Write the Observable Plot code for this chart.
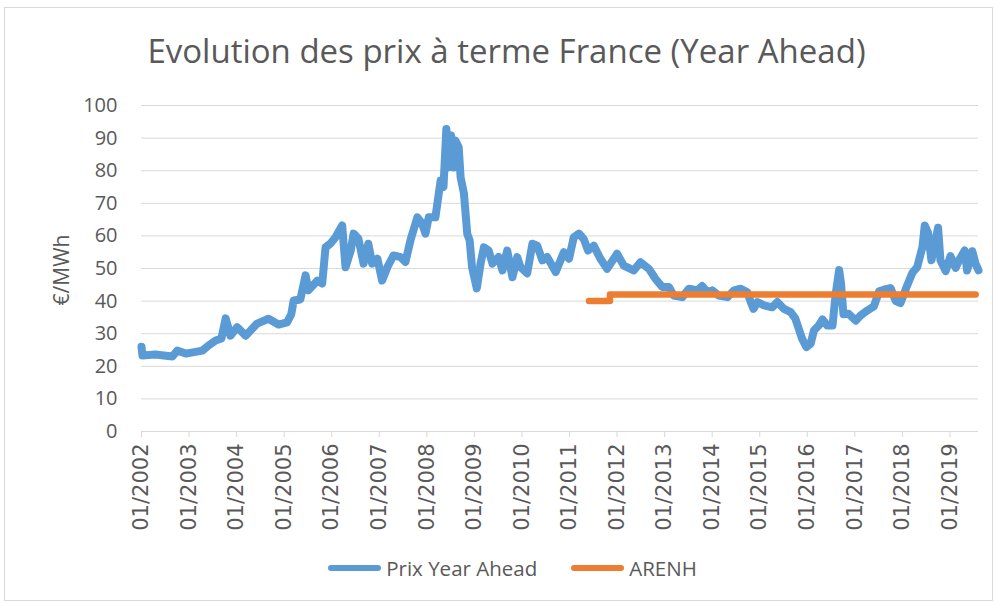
<!DOCTYPE html>
<html>
<head>
<meta charset="utf-8">
<script src="https://cdn.jsdelivr.net/npm/d3@7"></script>
<script src="https://cdn.jsdelivr.net/npm/@observablehq/plot@0.6"></script>
<style>
  html, body { margin: 0; padding: 0; background: #fff; }
  #wrap { position: relative; width: 995px; height: 603px; overflow: hidden; background: #fff; }
  #frame { position: absolute; left: 4px; top: 7px; width: 989px; height: 594px; border: 1px solid #D9D9D9; box-sizing: border-box; }
  #title { position: absolute; left: 0; width: 1013px; top: 28px; text-align: center; font-family: "Open Sans", sans-serif; font-size: 33px; color: #595959; white-space: nowrap; }
  #ylabel { position: absolute; left: 61px; top: 270px; transform: translate(-50%, -50%) rotate(-90deg); font-family: "Open Sans", sans-serif; font-size: 21px; color: #595959; white-space: nowrap; }
  #chart { position: absolute; left: 0; top: 0; }
  #legend { position: absolute; top: 554px; left: 0; width: 1025px; display: flex; justify-content: center; align-items: center; font-family: "Open Sans", sans-serif; font-size: 20.5px; color: #595959; }
  .item { display: flex; align-items: center; margin: 0 17px; }
  .sw { width: 53px; height: 6px; border-radius: 3px; margin-right: 5px; }
</style>
</head>
<body>
<div id="wrap">
  <div id="frame"></div>
  <div id="title">Evolution des prix à terme France (Year Ahead)</div>
  <div id="ylabel">€/MWh</div>
  <div id="chart"></div>
  <div id="legend"></div>
</div>
<script>
// Prix Year Ahead (€/MWh), time as decimal year
const priceYears = [2002.00, 2002.02, 2002.29, 2002.65, 2002.75, 2002.93, 2003.28, 2003.41, 2003.56, 2003.68,
  2003.77, 2003.87, 2004.01, 2004.19, 2004.43, 2004.67, 2004.88, 2005.06, 2005.15, 2005.20,
  2005.34, 2005.45, 2005.51, 2005.70, 2005.80, 2005.87, 2005.97, 2006.08, 2006.22, 2006.29,
  2006.40, 2006.46, 2006.56, 2006.67, 2006.77, 2006.85, 2006.96, 2007.06, 2007.17, 2007.30,
  2007.45, 2007.55, 2007.66, 2007.80, 2007.90, 2007.97, 2008.04, 2008.18, 2008.22, 2008.29,
  2008.35, 2008.41, 2008.45, 2008.51, 2008.56, 2008.60, 2008.67, 2008.71, 2008.78, 2008.85,
  2008.90, 2008.95, 2009.05, 2009.13, 2009.20, 2009.30, 2009.38, 2009.51, 2009.59, 2009.69,
  2009.80, 2009.90, 2009.97, 2010.11, 2010.22, 2010.32, 2010.43, 2010.53, 2010.71, 2010.88,
  2010.99, 2011.09, 2011.20, 2011.30, 2011.39, 2011.51, 2011.65, 2011.79, 2012.00, 2012.14,
  2012.35, 2012.49, 2012.67, 2012.81, 2012.95, 2013.09, 2013.19, 2013.37, 2013.51, 2013.69,
  2013.79, 2013.90, 2014.00, 2014.14, 2014.32, 2014.46, 2014.60, 2014.74, 2014.81, 2014.87,
  2014.95, 2015.09, 2015.26, 2015.37, 2015.51, 2015.65, 2015.75, 2015.82, 2015.89, 2015.98,
  2016.07, 2016.14, 2016.24, 2016.32, 2016.42, 2016.53, 2016.60, 2016.67, 2016.71, 2016.76,
  2016.87, 2017.02, 2017.12, 2017.26, 2017.40, 2017.51, 2017.61, 2017.75, 2017.86, 2017.96,
  2018.10, 2018.21, 2018.31, 2018.42, 2018.47, 2018.54, 2018.61, 2018.70, 2018.75, 2018.80,
  2018.91, 2019.01, 2019.12, 2019.19, 2019.31, 2019.36, 2019.47, 2019.54, 2019.60];
const priceValues = [26.0, 23.3, 23.6, 23.0, 24.8, 23.9, 24.8, 26.4, 27.9, 28.5,
  34.7, 29.4, 32.0, 29.4, 33.1, 34.6, 32.8, 33.5, 36.0, 40.2,
  40.5, 47.9, 43.3, 46.3, 45.4, 56.5, 57.6, 59.6, 63.2, 50.4,
  55.5, 60.7, 59.2, 51.5, 57.6, 51.5, 53.0, 46.3, 50.4, 54.0,
  53.5, 52.0, 58.9, 65.7, 63.8, 60.7, 65.7, 65.7, 69.8, 77.0,
  75.0, 92.8, 81.0, 90.8, 81.0, 89.3, 87.2, 78.0, 73.0, 60.6,
  58.6, 50.4, 43.9, 51.5, 56.5, 55.5, 51.5, 53.5, 49.4, 55.5,
  47.3, 53.5, 50.4, 48.5, 57.6, 57.0, 52.5, 53.5, 48.9, 55.0,
  53.0, 59.6, 60.7, 59.0, 55.5, 57.0, 53.0, 49.9, 54.5, 50.9,
  49.4, 51.9, 49.9, 46.8, 44.3, 44.3, 41.7, 41.2, 43.8, 43.3,
  44.6, 42.7, 43.3, 41.7, 41.2, 43.3, 43.8, 42.7, 39.7, 37.6,
  39.7, 38.7, 38.1, 39.7, 37.6, 36.6, 34.6, 31.5, 28.5, 25.9,
  26.9, 31.0, 32.5, 34.4, 32.5, 32.5, 42.5, 49.5, 45.3, 36.0,
  36.1, 34.0, 35.6, 37.1, 38.4, 43.0, 43.5, 44.0, 40.0, 39.4,
  44.8, 48.7, 50.4, 56.5, 63.2, 60.9, 52.5, 58.9, 62.5, 52.5,
  49.2, 53.8, 50.2, 52.5, 55.5, 49.4, 55.3, 51.4, 49.4];

// ARENH (€/MWh)
const arenhYears = [2011.41, 2011.85, 2011.85, 2019.54];
const arenhValues = [40, 40, 42, 42];

// Axis ticks
const xTicks = [2002, 2003, 2004, 2005, 2006, 2007, 2008, 2009, 2010, 2011, 2012, 2013, 2014, 2015, 2016, 2017, 2018, 2019];
const xTickLabels = ["01/2002", "01/2003", "01/2004", "01/2005", "01/2006", "01/2007", "01/2008", "01/2009", "01/2010",
  "01/2011", "01/2012", "01/2013", "01/2014", "01/2015", "01/2016", "01/2017", "01/2018", "01/2019"];
const yTicks = [0, 10, 20, 30, 40, 50, 60, 70, 80, 90, 100];

const seriesNames = ["Prix Year Ahead", "ARENH"];
const seriesColors = ["#5B9BD5", "#ED7D31"];

const price = priceYears.map((t, i) => ({t, v: priceValues[i]}));
const arenh = arenhYears.map((t, i) => ({t, v: arenhValues[i]}));
const labelOf = new Map(xTicks.map((t, i) => [t, xTickLabels[i]]));

const chart = Plot.plot({
  width: 995,
  height: 545,
  marginLeft: 141,
  marginRight: 17,
  marginTop: 105,
  marginBottom: 114,
  style: {color: "#595959", background: "transparent", overflow: "visible"},
  x: {type: "linear", domain: [2002, 2019.6]},
  y: {domain: [0, 100]},
  marks: [
    Plot.gridY(yTicks, {stroke: "#D9D9D9", strokeOpacity: 1, strokeWidth: 1}),
    Plot.axisY(yTicks, {tickSize: 0, tickPadding: 24, fontSize: 20, fontFamily: "Open Sans", fill: "#595959", label: null}),
    Plot.axisX(xTicks, {tickSize: 6, stroke: "#D9D9D9", strokeOpacity: 1, tickRotate: -90, tickPadding: 6,
      tickFormat: d => labelOf.get(d), fontSize: 21, fontFamily: "DejaVu Sans", fill: "#595959", label: null}),
    Plot.line(price, {x: "t", y: "v", stroke: seriesColors[0], strokeWidth: 8, strokeLinejoin: "round", strokeLinecap: "round"}),
    Plot.line(arenh, {x: "t", y: "v", stroke: seriesColors[1], strokeWidth: 6.5, strokeLinejoin: "round", strokeLinecap: "round"})
  ]
});
document.getElementById("chart").appendChild(chart);

const legend = document.getElementById("legend");
seriesNames.forEach((name, i) => {
  const item = document.createElement("div");
  item.className = "item";
  const sw = document.createElement("div");
  sw.className = "sw";
  sw.style.background = seriesColors[i];
  const lab = document.createElement("span");
  lab.textContent = name;
  item.appendChild(sw);
  item.appendChild(lab);
  legend.appendChild(item);
});
</script>
</body>
</html>
